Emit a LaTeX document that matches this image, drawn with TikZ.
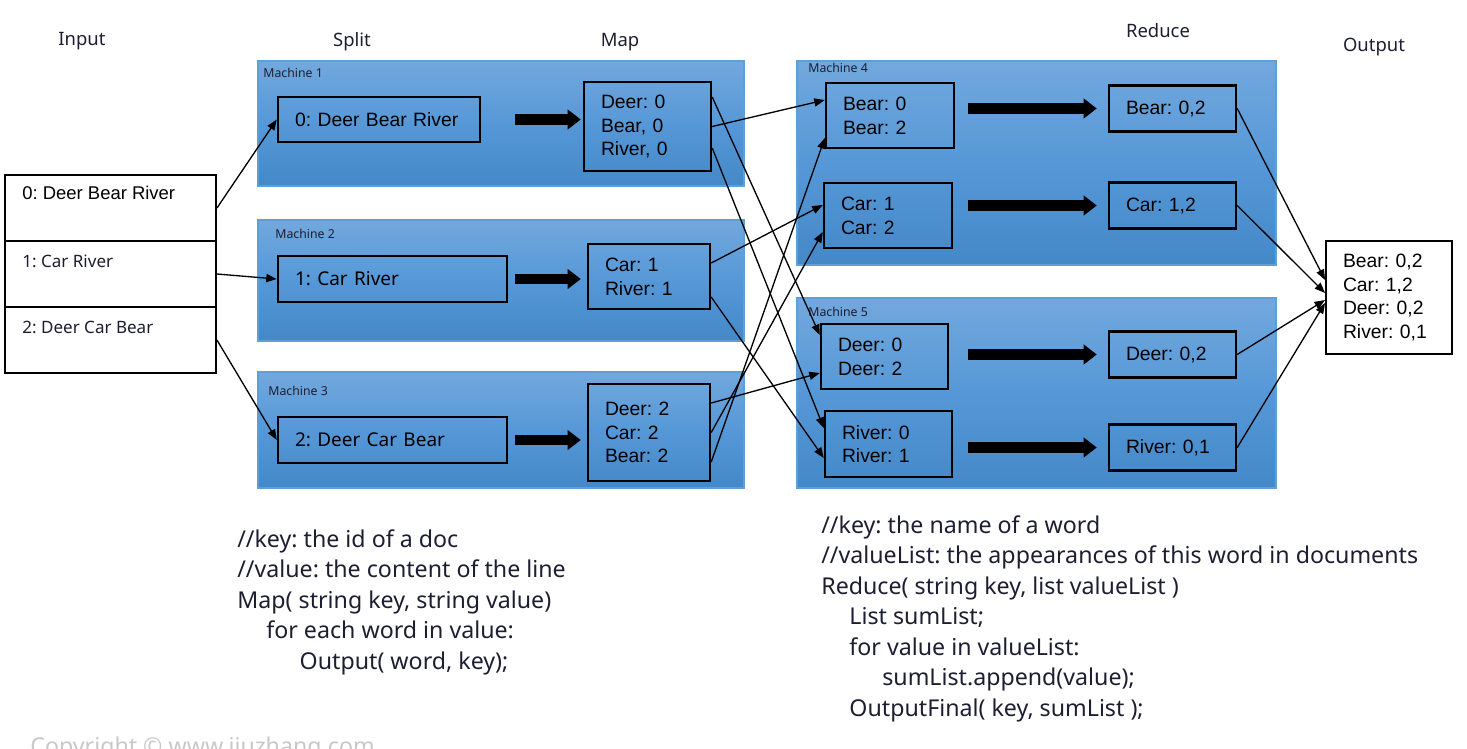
\documentclass[tikz,border=0pt]{standalone}
\usepackage{fontspec}
\setmainfont{Liberation Sans}
\newfontfamily\notosans{Noto Sans}
\usetikzlibrary{arrows.meta,calc}
\frenchspacing
\definecolor{mtop}{RGB}{114,168,221}
\definecolor{mmid}{RGB}{86,152,215}
\definecolor{mbot}{RGB}{68,136,200}
\definecolor{mline}{RGB}{96,158,214}
\definecolor{ink}{RGB}{30,30,50}
\definecolor{wmgrey}{RGB}{200,200,200}
\newcommand{\kvfont}{\fontsize{11}{13.5}\selectfont}
\newcommand{\kvthin}{\notosans\fontsize{10.8}{13.5}\selectfont}
\newcommand{\hdfont}{\notosans\fontsize{10.5}{12}\selectfont}
\newcommand{\mcfont}{\notosans\fontsize{7}{8}\selectfont}
\newcommand{\cdfont}{\notosans\fontsize{13.2}{17.4}\selectfont}
\tikzset{
  >={Triangle[length=6pt,width=4.6pt]},
  kv/.style={draw=black,line width=1.4pt,inner xsep=0.34cm,inner ysep=0pt,
    align=left,font=\kvfont},
  inrow/.style={draw=black,line width=1.1pt,fill=white,minimum width=4.22cm,
    minimum height=1.32cm},
  intext/.style={font=\notosans\fontsize{9.7}{11}\selectfont,text=ink,inner sep=0pt},
  machine/.style={draw=mline,line width=0.8pt,top color=mtop,bottom color=mbot,
    middle color=mmid},
  mlabel/.style={font=\mcfont,text=ink,inner sep=0pt},
  head/.style={font=\hdfont,text=ink},
  link/.style={->,line width=0.75pt},
  fat/.style={-{Triangle[length=7.5pt,width=11pt]},line width=5.8pt},
  code/.style={font=\cdfont,text=ink,align=left,inner sep=0pt},
}
\begin{document}
\begin{tikzpicture}[x=0.02cm,y=-0.02cm]
\useasboundingbox (0,0) rectangle (1467,748);

% column titles
\foreach \t/\x/\y in {Input/82/41,Split/352/42,Map/620/42,Reduce/1158/31,Output/1374/47}
  \node[head] (h\t) at (\x,\y) {\t};

% machines
\foreach \i/\xa/\ya/\xb/\yb/\lx/\ly in {1/258/61/744/186/263/73,2/258/220/744/341/275/234,
    3/258/372/744/488/268/391,4/797/61/1276/265/808/68,5/797/298/1276/488/808/312}{
  \path[machine] (\xa,\ya) rectangle (\xb,\yb);
  \node[mlabel,anchor=west] (mc\i) at (\lx,\ly) {Machine \i};
}

% input
\foreach \i/\y in {0/208,1/274,2/340}
  \node[inrow] (in\i) at (110.5,\y) {};
\node[intext,anchor=west,font=\fontsize{10.5}{12}\selectfont,text=black] (t0) at (22,193) {0: Deer Bear River};
\node[intext,anchor=west] (t1) at (22,261) {1: Car River};
\node[intext,anchor=west] (t2) at (22,327) {2: Deer Car Bear};

% split
\node[kv,text width=3.36cm,minimum height=0.9cm] (s1) at (379,119.5) {0: Deer Bear River};
\node[kv,font=\kvthin,text width=3.9cm,minimum height=0.92cm] (s2) at (392.5,279) {1: Car River};
\node[kv,font=\kvthin,text width=3.9cm,minimum height=0.92cm] (s3) at (392.5,440) {2: Deer Car Bear};

% map
\node[kv,text width=1.86cm,minimum height=1.78cm] (m1) at (647.5,126.5) {Deer: 0\\Bear, 0\\River, 0};
\node[kv,text width=1.76cm,minimum height=1.3cm] (m2) at (649,276.5) {Car: 1\\River: 1};
\node[kv,text width=1.76cm,minimum height=1.94cm] (m3) at (649,432.5) {Deer: 2\\Car: 2\\Bear: 2};

% reduce
\foreach \n/\x/\y/\w/\txt in {r1/890/115.5/1.88/{Bear: 0\\Bear: 2},r2/888/215.5/1.88/{Car: 1\\Car: 2},
    r3/884.5/356.5/1.86/{Deer: 0\\Deer: 2},r4/888.5/444/1.86/{River: 0\\River: 1}}
  \node[kv,text width=\w cm,minimum height=1.31cm] (\n) at (\x,\y) {\txt};
\foreach \n/\y/\txt in {o1/108.5/{Bear: 0,2},o2/205.5/{Car: 1,2},o3/354.5/{Deer: 0,2},o4/447.5/{River: 0,1}}
  \node[kv,text width=1.86cm,minimum height=0.92cm] (\n) at (1172.5,\y) {\txt};

% output
\node[kv,line width=1.1pt,fill=white,text width=1.84cm,minimum height=2.26cm] (fin) at (1389,297.5)
  {Bear: 0,2\\Car: 1,2\\Deer: 0,2\\River: 0,1};

% input -> split
\draw[link] (in0.east) -- (s1.west);
\draw[link] (in1.east) -- (s2.west);
\draw[link] (in2.east) -- (s3.west);

% split -> map
\draw[fat,shorten <=0.68cm,shorten >=0.04cm] (s1.east) -- (s1.east -| m1.west);
\draw[fat,shorten <=0.14cm,shorten >=0.12cm] (s2.east) -- (s2.east -| m2.west);
\draw[fat,shorten <=0.14cm,shorten >=0.12cm] (s3.east) -- (s3.east -| m3.west);

% shuffle
\draw[link] ([yshift=0.59cm]m1.east) -- ([yshift=0.43cm]r3.west);
\draw[link] (m1.east) -- ([yshift=0.31cm]r1.west);
\draw[link] ([yshift=-0.43cm]m1.east) -- ([yshift=0.32cm]r4.west);
\draw[link] ([yshift=0.27cm]m2.east) -- ([yshift=0.21cm]r2.west);
\draw[link] ([yshift=-0.41cm]m2.east) -- ([yshift=-0.28cm]r4.west);
\draw[link] ([yshift=0.59cm]m3.east) -- ([yshift=-0.33cm]r3.west);
\draw[link] (m3.east) -- ([yshift=-0.33cm]r2.west);
\draw[link] ([yshift=-0.59cm]m3.east) -- ([yshift=-0.45cm]r1.west);

% reduce
\foreach \a/\b/\s in {r1/o1/0.26cm,r2/o2/0.30cm,r3/o3/0.38cm,r4/o4/0.30cm}
  \draw[fat,shorten <=\s,shorten >=0.22cm] (\a.east |- \b.west) -- (\b.west);
\foreach \o/\s in {o1/0.35cm,o2/0.09cm,o3/-0.05cm,o4/-0.11cm}
  \draw[link] (\o.east) -- ([yshift=\s]fin.west);

% pseudo code
\node[code,anchor=north west] (mapcode) at (237,529) {//key: the id of a doc\\//value: the content of the line\\
  Map( string key, string value)\\\hspace*{16.5pt}for each word in value:\\\hspace*{35.5pt}Output( word, key);};
\node[code,anchor=north west] (redcode) at (821,515) {//key: the name of a word\\
  //valueList: the appearances of this word in documents\\Reduce( string key, list valueList )\\
  \hspace*{16pt}List sumList;\\\hspace*{16pt}for value in valueList:\\
  \hspace*{34.7pt}sumList.append(value);\\\hspace*{16pt}OutputFinal( key, sumList );};
\node[code,text=wmgrey,anchor=north west] (wm) at (30,737) {Copyright © www.jiuzhang.com};
\end{tikzpicture}
\end{document}
